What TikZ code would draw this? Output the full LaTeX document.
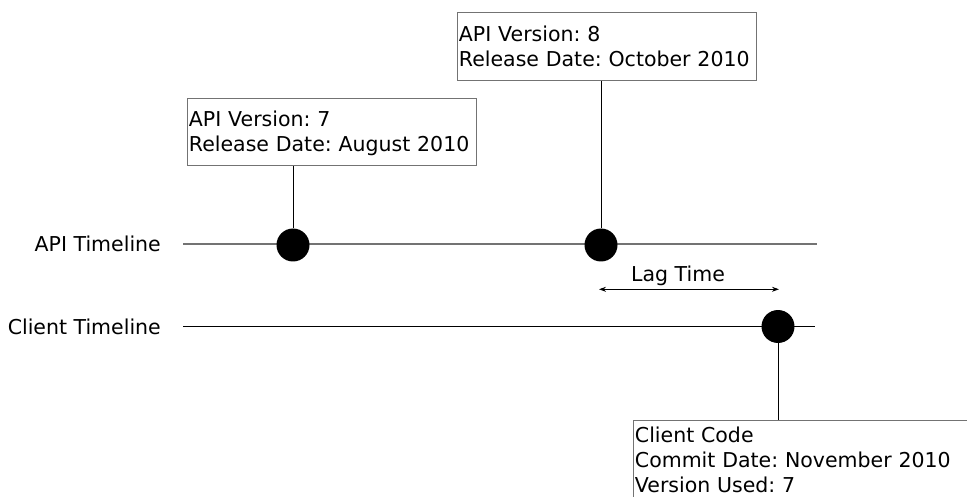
\documentclass[tikz,border=0pt]{standalone}
\usepackage{fontspec}
\setmainfont{DejaVu Sans}
\usetikzlibrary{arrows.meta}
\begin{document}
\frenchspacing
\begin{tikzpicture}[x=1pt,y=-1pt,
  txt/.style={font=\fontsize{20.5}{25}\selectfont},
  lbl/.style={txt, inner sep=0pt},
  infobox/.style={txt, draw=black!55, line width=0.9pt, align=left, anchor=north west, inner xsep=1.5pt, inner ysep=0pt},
  dot/.style={circle, fill=black, minimum size=33pt, inner sep=0pt},
  conn/.style={line width=0.9pt, black}]
\useasboundingbox (0,0) rectangle (967,497);
% labels
\node[lbl, anchor=base east] (apil) at (161,251.7) {API Timeline};
\node[lbl, anchor=base east] (clil) at (161,334.7) {Client Timeline};
% timeline ends
\coordinate (a0) at (183,244);
\coordinate (a1) at (817,244);
\coordinate (c0) at (183,326);
\coordinate (c1) at (815,326);
\draw[line width=1.1pt, black!55] (a0) -- (a1);
\draw[line width=0.9pt, black] (c0) -- (c1);
% dots
\node[dot] (d7) at (293,245) {};
\node[dot] (d8) at (601,245) {};
\node[dot] (dc) at (778,326.5) {};
% boxes
\node[infobox, text width=286pt, text height=28.5pt, text depth=39pt] (b7) at (187,98) {API Version: 7\\Release Date: August 2010};
\node[infobox, text width=296pt, text height=29pt, text depth=39pt] (b8) at (457,12) {API Version: 8\\Release Date: October 2010};
\node[infobox, text width=340pt, text height=23pt, text depth=70pt] (bc) at (633,419.5) {Client Code\\Commit Date: November 2010\\Version Used: 7};
% connectors
\draw[conn] (b7.south -| d7) -- (d7);
\draw[conn] (b8.south -| d8) -- (d8);
\draw[conn] (dc) -- (dc |- bc.north);
% lag time
\coordinate (l0) at (599,289.3);
\coordinate (l1) at (779,289.3);
\draw[line width=0.8pt, {Stealth[length=7pt,width=5pt]}-{Stealth[length=7pt,width=5pt]}] (l0) -- (l1);
\node[lbl, anchor=base] (lag) at (678,281.7) {Lag Time};
\end{tikzpicture}
\end{document}
